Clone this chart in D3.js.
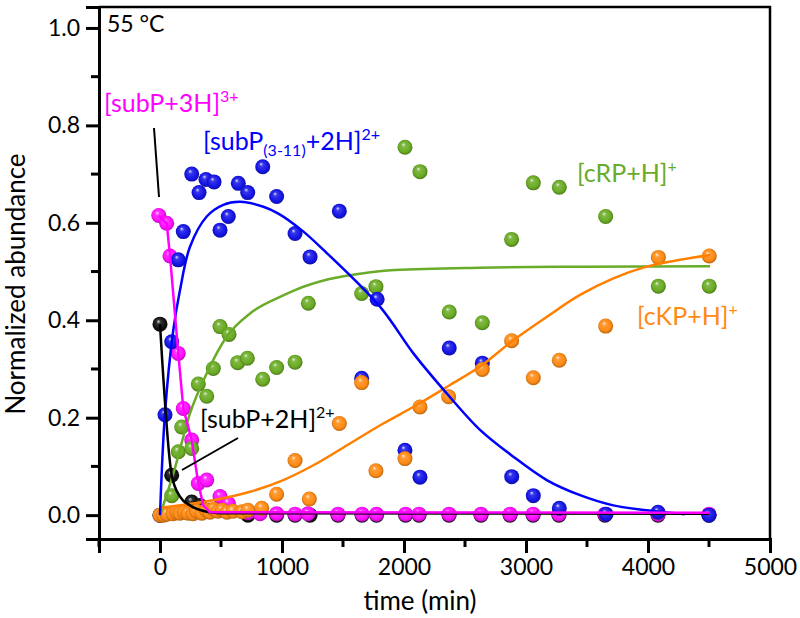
<!DOCTYPE html>
<html><head><meta charset="utf-8">
<script src="https://cdn.jsdelivr.net/npm/d3@7"></script>
<style>body{margin:0;background:#fff}svg{display:block;font-family:Lato,"Open Sans",sans-serif}</style>
</head><body><svg id="c" width="800" height="618"></svg>
<script>
// ---------- data (time in min, normalized abundance) ----------
const xTicks = [0, 1000, 2000, 3000, 4000, 5000];
const yTicks = [0.0, 0.2, 0.4, 0.6, 0.8, 1.0];

const bluePts = [[0,0.0],[41,0.206],[96,0.356],[150,0.524],[191,0.582],[260,0.70],[320,0.662],[377,0.689],[443,0.684],[492,0.585],[560,0.613],[642,0.681],[719,0.662],[842,0.715],[956,0.654],[1107,0.578],[1230,0.53],[1470,0.624],[1653,0.281],[1780,0.443],[2008,0.133],[2131,0.078],[2371,0.343],[2642,0.312],[2883,0.079],[3060,0.04],[3273,0.014],[3656,0.002],[4082,0.006],[4500,0.0]];
const greenPts = [[0,0.0],[96,0.04],[150,0.13],[178,0.181],[260,0.137],[314,0.269],[383,0.244],[437,0.301],[492,0.387],[566,0.371],[637,0.313],[716,0.322],[842,0.279],[956,0.303],[1107,0.314],[1216,0.435],[1653,0.455],[1770,0.469],[2008,0.755],[2131,0.705],[2371,0.417],[2642,0.395],[2882,0.566],[3060,0.682],[3273,0.673],[3653,0.613],[4085,0.47],[4502,0.47]];
const orangePts = [[0,0.0],[30,0.0],[57,0.002],[107,0.003],[140,0.005],[164,0.004],[200,0.006],[230,0.004],[271,0.003],[300,0.008],[344,0.004],[380,0.01],[410,0.006],[440,0.012],[475,0.008],[510,0.01],[549,0.006],[598,0.008],[672,0.007],[721,0.01],[834,0.014],[956,0.043],[1107,0.112],[1224,0.033],[1470,0.188],[1653,0.272],[1770,0.091],[2008,0.116],[2131,0.222],[2366,0.243],[2642,0.299],[2882,0.358],[3060,0.282],[3273,0.318],[3653,0.388],[4085,0.529],[4502,0.532]];
const blackPts = [[0,0.392],[96,0.082],[260,0.027],[328,0.02],[400,0.01],[721,0.0],[956,0.0],[1107,0.0],[1230,0.0],[1459,0.0],[1656,0.0],[1775,0.0],[2013,0.0],[2123,0.0],[2369,0.0],[2631,0.0],[2869,0.0],[3058,0.0],[3270,0.0],[3647,0.0],[4082,0.0],[4500,0.0]];
const magentaPts = [[-10,0.615],[55,0.599],[82,0.532],[150,0.332],[191,0.219],[260,0.154],[314,0.065],[383,0.072],[492,0.038],[560,0.024],[720,0.005],[820,0.003],[956,0.003],[1107,0.002],[1213,0.003],[1459,0.002],[1656,0.002],[1775,0.002],[2013,0.002],[2123,0.002],[2369,0.002],[2631,0.002],[2869,0.002],[3058,0.002],[3270,0.002],[3647,0.002],[4082,0.002],[4500,0.002]];

const blueFit = [[0,0],[41,0.21],[109,0.38],[164,0.462],[246,0.551],[383,0.613],[519,0.637],[656,0.643],[847,0.633],[970,0.619],[1161,0.585],[1325,0.548],[1803,0.428],[2077,0.332],[2350,0.25],[2623,0.175],[2896,0.12],[3170,0.072],[3443,0.041],[3716,0.02],[3989,0.01],[4262,0.003],[4300,0.002]];
const greenFit = [[0,0],[109,0.085],[246,0.209],[383,0.291],[546,0.366],[738,0.414],[984,0.448],[1107,0.462],[1380,0.484],[1653,0.496],[1926,0.503],[2623,0.508],[3443,0.51],[4508,0.511]];
const orangeFit = [[0,0.015],[423,0.03],[738,0.048],[1011,0.072],[1284,0.106],[1557,0.147],[1830,0.188],[2104,0.226],[2377,0.267],[2623,0.305],[2896,0.359],[3170,0.407],[3443,0.452],[3716,0.486],[3989,0.51],[4262,0.524],[4508,0.534]];
const magentaFit = [[-10,0.615],[55,0.599],[82,0.532],[150,0.332],[191,0.219],[260,0.154],[314,0.065],[355,0.02],[410,0.006],[4500,0.005]];
const blackFit = [[0,0.392],[96,0.082],[164,0.038],[246,0.02],[383,0.007],[500,0.004],[4500,0.003]];

// ---------- layout ----------
const svg = d3.select('#c');
const x = d3.scaleLinear().domain([-500, 5000]).range([99, 770]);
const y = d3.scaleLinear().domain([-0.049, 1.043]).range([539, 7]);

const colors = {blue:'#1414e6', green:'#6aab24', orange:'#ff8a14', black:'#111', magenta:'#ff10ff'};
const lineColors = {blue:'#0000ff', green:'#6aab2a', orange:'#ff8000', black:'#000', magenta:'#ff00ff'};

// sphere gradients
const defs = svg.append('defs');
Object.entries(colors).forEach(([k,c])=>{
  const g = defs.append('radialGradient').attr('id','g'+k).attr('cx','0.5').attr('cy','0.5').attr('r','0.55').attr('fx','0.38').attr('fy','0.3');
  g.append('stop').attr('offset','0%').attr('stop-color', d3.interpolateRgb(c,'#fff')(0.85));
  g.append('stop').attr('offset','25%').attr('stop-color', d3.interpolateRgb(c,'#fff')(0.15));
  g.append('stop').attr('offset','70%').attr('stop-color', c);
  g.append('stop').attr('offset','100%').attr('stop-color', d3.interpolateRgb(c,'#000')(0.35));
});

// frame
svg.append('path').attr('d',`M${x(-500)},${y(1.043)}H${x(5000)}V${y(-0.049)}`).attr('fill','none').attr('stroke','#000').attr('stroke-width',2.5);

// dots
function dots(data, key){
  svg.append('g').selectAll('circle').data(data).join('circle')
    .attr('cx',d=>x(d[0])).attr('cy',d=>y(d[1])).attr('r',7.5)
    .attr('fill',`url(#g${key})`);
}
dots(blackPts,'black');
dots(magentaPts,'magenta');
dots(greenPts,'green');
dots(bluePts,'blue');
dots(orangePts,'orange');

// lines
function line(data,key,curve){
  svg.append('path').datum(data).attr('fill','none').attr('stroke',lineColors[key]).attr('stroke-width',2.5)
    .attr('d', d3.line().x(d=>x(d[0])).y(d=>y(d[1])).curve(curve)(data));
}
line(greenFit,'green',d3.curveMonotoneX);
line(orangeFit,'orange',d3.curveCatmullRom);
line(blueFit,'blue',d3.curveCatmullRom);
line(blackFit,'black',d3.curveMonotoneX);
line(magentaFit,'magenta',d3.curveLinear);

// axes
const xAxis = svg.append('g').attr('transform',`translate(0,${y(-0.049)})`)
  .call(d3.axisBottom(x).tickValues(xTicks).tickFormat(d3.format('d')).tickSize(14).tickPadding(6));
const yAxis = svg.append('g').attr('transform',`translate(${x(-500)},0)`)
  .call(d3.axisLeft(y).tickValues(yTicks).tickFormat(d3.format('.1f')).tickSize(13).tickPadding(6));
[xAxis,yAxis].forEach(a=>{
  a.select('.domain').attr('stroke','#000').attr('stroke-width',3);
  a.selectAll('.tick line').attr('stroke','#000').attr('stroke-width',3);
  a.selectAll('.tick text').attr('fill','#000').attr('font-size',23).attr('font-family','Lato');
});
// minor ticks
const xMinor = [-500,500,1500,2500,3500,4500];
const yMinor = [0.1,0.3,0.5,0.7,0.9];
svg.append('g').selectAll('line').data(xMinor).join('line')
  .attr('x1',d=>x(d)).attr('x2',d=>x(d)).attr('y1',y(-0.049)).attr('y2',y(-0.049)+8)
  .attr('stroke','#000').attr('stroke-width',3);
svg.append('g').selectAll('line').data(yMinor).join('line')
  .attr('y1',d=>y(d)).attr('y2',d=>y(d)).attr('x1',x(-500)).attr('x2',x(-500)-8)
  .attr('stroke','#000').attr('stroke-width',3);

// axis titles
svg.append('text').attr('x',420).attr('y',610).attr('text-anchor','middle').attr('font-size',26).text('time (min)');
svg.append('text').attr('transform','translate(25,284) rotate(-90)').attr('text-anchor','middle').attr('font-size',26).text('Normalized abundance');

// annotations
svg.append('text').attr('x',107).attr('y',32).attr('font-size',23).text('55 °C');
function label(xp,yp,color,parts){
  const t = svg.append('text').attr('x',xp).attr('y',yp).attr('fill',color).attr('font-size',25);
  let shift = 0;
  parts.forEach(p=>{
    const dy = (p.s==='sup'? -10 : p.s==='sub'? 6 : 0) - shift;
    shift += dy;
    t.append('tspan').attr('dy',dy).attr('font-size',p.s?16:25).text(p.t);
  });
}
label(104,112,'#ff00ff',[{t:'[subP+3H]'},{t:'3+',s:'sup'}]);
label(203,150,'#0000ff',[{t:'[subP'},{t:'(3-11)',s:'sub'},{t:'+2H]'},{t:'2+',s:'sup'}]);
label(577,182,'#6aab2a',[{t:'[cRP+H]'},{t:'+',s:'sup'}]);
label(637,325,'#ff8a14',[{t:'[cKP+H]'},{t:'+',s:'sup'}]);
label(200,428,'#000',[{t:'[subP+2H]'},{t:'2+',s:'sup'}]);
svg.append('line').attr('x1',154).attr('y1',128).attr('x2',159).attr('y2',197).attr('stroke','#000').attr('stroke-width',2);
svg.append('line').attr('x1',238).attr('y1',438).attr('x2',182).attr('y2',470).attr('stroke','#000').attr('stroke-width',2);
</script></body></html>
